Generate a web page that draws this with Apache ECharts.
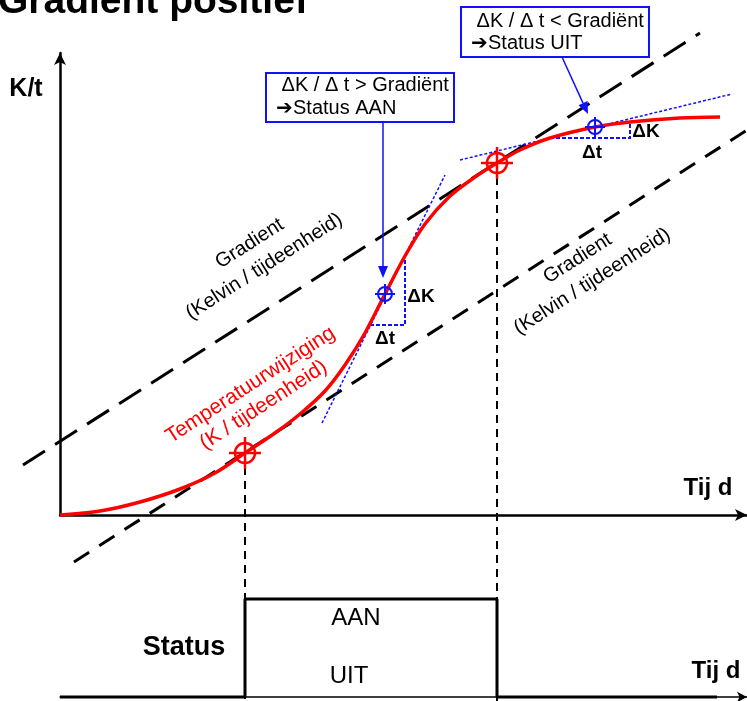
<!DOCTYPE html>
<html>
<head>
<meta charset="utf-8">
<script src="https://cdn.jsdelivr.net/npm/echarts@6/dist/echarts.min.js"></script>
<style>
  html, body { margin: 0; padding: 0; background: #fff; }
  #chart { width: 747px; height: 701px; }
</style>
</head>
<body>
<div id="chart"></div>
<script>
// time (t) and temperature (K) in arbitrary units, origin at the axes crossing
const curveT = [0, 40, 80, 120, 155, 185, 215, 240, 265, 285, 305, 325, 345, 365, 390, 415, 437, 460, 490, 535, 570, 620, 660];
const curveK = [0, 4, 13, 26, 42, 62, 82, 101, 124, 150, 182, 221, 259, 291, 319, 338, 352, 365, 377, 388, 393, 397, 398];

const gradientHigh = [[-37, 50], [640, 482]];
const gradientLow = [[14, -47], [687, 385]];

const tangentOn = [[262, 92], [385, 340]];
const tangentOff = [[400, 355], [672, 421]];

const deltaOn = [[310, 190], [345, 190], [345, 259]];
const deltaOff = [[490, 377], [570, 377], [570, 393]];

const switchPoints = [[185, 62], [437, 352]];
const measurePoints = [[325, 221], [535, 388]];

const switchT = [185, 437];
const statusT = [0, 185, 185, 437, 437, 657];
const statusV = [0, 0, 1, 1, 0, 0];

const FONT = 'Liberation Sans, Arial, sans-serif';
const chart = echarts.init(document.getElementById('chart'));

const blue = '#1010ff';
const red = '#ff0000';

function zip(xs, ys) {
  return xs.map((x, i) => [x, ys[i]]);
}

// straight polyline through data points, not clipped to the grid
function segSeries(points, color, width, dash) {
  return {
    type: 'custom',
    xAxisIndex: 0,
    yAxisIndex: 0,
    data: points,
    clip: false,
    silent: true,
    z: 3,
    renderItem(params, api) {
      if (params.dataIndex !== 0) return null;
      return {
        type: 'polyline',
        shape: { points: points.map((p) => api.coord(p)) },
        style: { stroke: color, lineWidth: width, lineDash: dash, fill: null },
      };
    },
  };
}

function crosshairSeries(data, color, r, arm, width) {
  return {
    type: 'custom',
    xAxisIndex: 0,
    yAxisIndex: 0,
    data,
    clip: false,
    silent: true,
    z: 5,
    renderItem(params, api) {
      const p = api.coord([api.value(0), api.value(1)]);
      const style = { stroke: color, lineWidth: width, fill: null };
      return {
        type: 'group',
        children: [
          { type: 'circle', shape: { cx: p[0], cy: p[1], r }, style },
          { type: 'line', shape: { x1: p[0] - arm, y1: p[1], x2: p[0] + arm, y2: p[1] }, style },
          { type: 'line', shape: { x1: p[0], y1: p[1] - arm, x2: p[0], y2: p[1] + arm }, style },
        ],
      };
    },
  };
}

function text(str, x, y, font, fill, rotationDeg = 0, extra = {}) {
  return {
    type: 'text',
    x,
    y,
    rotation: rotationDeg * Math.PI / 180,
    z: 10,
    style: Object.assign({ text: str, font, fill, align: 'center', verticalAlign: 'middle' }, extra),
  };
}

function arrow(x1, y1, x2, y2, color) {
  const ang = Math.atan2(y2 - y1, x2 - x1);
  const len = 12, half = 5;
  const bx = x2 - len * Math.cos(ang), by = y2 - len * Math.sin(ang);
  const nx = -Math.sin(ang) * half, ny = Math.cos(ang) * half;
  return [
    { type: 'line', z: 10, shape: { x1, y1, x2: bx, y2: by }, style: { stroke: color, lineWidth: 1.5 } },
    { type: 'polygon', z: 10, shape: { points: [[x2, y2], [bx + nx, by + ny], [bx - nx, by - ny]] }, style: { fill: color } },
  ];
}

function box(x, y, w, h) {
  return { type: 'rect', z: 9, shape: { x, y, width: w, height: h }, style: { fill: '#fff', stroke: blue, lineWidth: 2 } };
}

chart.setOption({
  animation: false,
  grid: [
    { left: 60, right: 0, top: 53, bottom: 186 },
    { left: 60, right: 0, top: 599, bottom: 4 },
  ],
  xAxis: [
    {
      gridIndex: 0, type: 'value', min: 0, max: 687,
      axisLine: { lineStyle: { color: '#000', width: 2.5 }, symbol: ['none', 'arrow'], symbolSize: [9, 12] },
      axisTick: { show: false }, axisLabel: { show: false }, splitLine: { show: false },
    },
    {
      gridIndex: 1, type: 'value', min: 0, max: 687,
      axisLine: { lineStyle: { color: '#000', width: 1.5 }, symbol: ['none', 'arrow'], symbolSize: [8, 10] },
      axisTick: { show: false }, axisLabel: { show: false }, splitLine: { show: false },
    },
  ],
  yAxis: [
    {
      gridIndex: 0, type: 'value', min: 0, max: 462,
      axisLine: { show: true, lineStyle: { color: '#000', width: 2.5 }, symbol: ['none', 'arrow'], symbolSize: [9, 12] },
      axisTick: { show: false }, axisLabel: { show: false }, splitLine: { show: false },
    },
    {
      gridIndex: 1, type: 'value', min: 0, max: 1,
      axisLine: { show: false }, axisTick: { show: false }, axisLabel: { show: false }, splitLine: { show: false },
    },
  ],
  series: [
    segSeries(gradientHigh, '#000', 3, [26, 12]),
    segSeries(gradientLow, '#000', 3, [18, 12]),
    ...switchT.map((t, i) => segSeries([[t, switchPoints[i][1] - 14], [t, -186]], '#000', 2, [8, 6])),
    segSeries(tangentOn, blue, 1.5, [3, 2]),
    segSeries(tangentOff, blue, 1.5, [3, 2]),
    segSeries(deltaOn, blue, 2, [4, 2]),
    segSeries(deltaOff, blue, 2, [4, 2]),
    {
      type: 'line',
      xAxisIndex: 0,
      yAxisIndex: 0,
      data: zip(curveT, curveK),
      symbol: 'none',
      smooth: 0.3,
      clip: false,
      silent: true,
      z: 4,
      lineStyle: { color: red, width: 3.5 },
    },
    crosshairSeries(switchPoints, red, 10, 16, 2.5),
    crosshairSeries(measurePoints, blue, 7, 10, 2),
    {
      type: 'line',
      xAxisIndex: 1,
      yAxisIndex: 1,
      data: zip(statusT, statusV),
      symbol: 'none',
      clip: false,
      silent: true,
      lineStyle: { color: '#000', width: 3 },
    },
  ],
  graphic: [
    text('Gradiënt positief', -2, 22, `bold 39px ${FONT}`, '#000', 0, { align: 'left', verticalAlign: 'bottom' }),
    text('K/t', 26, 89, `bold 25px ${FONT}`, '#000'),
    text('Tij d', 708, 488, `bold 24px ${FONT}`, '#000'),
    text('Tij d', 716, 671, `bold 24px ${FONT}`, '#000'),
    text('Status', 184, 648, `bold 27px ${FONT}`, '#000'),
    text('AAN', 356, 618, `24px ${FONT}`, '#000'),
    text('UIT', 349, 676, `24px ${FONT}`, '#000'),
    text('Gradient\n(Kelvin / tijdeenheid)', 257, 255, `20px ${FONT}`, '#000', 32.5, { lineHeight: 27 }),
    text('Gradient\n(Kelvin / tijdeenheid)', 585, 270, `20px ${FONT}`, '#000', 32.5, { lineHeight: 27 }),
    text('Temperatuurwijziging\n(K / tijdeenheid)', 257, 395, `21px ${FONT}`, red, 33, { lineHeight: 24 }),
    text('ΔK', 421, 297, `bold 19px ${FONT}`, '#000'),
    text('Δt', 385, 339, `bold 19px ${FONT}`, '#000'),
    text('ΔK', 646, 132, `bold 19px ${FONT}`, '#000'),
    text('Δt', 592, 153, `bold 19px ${FONT}`, '#000'),
    box(266, 73, 188, 49),
    text(' ΔK / Δ t > Gradiënt\n➔Status AAN', 276, 97, `20px ${FONT}`, '#000', 0, { align: 'left', lineHeight: 23 }),
    box(461, 7, 188, 50),
    text(' ΔK / Δ t < Gradiënt\n➔Status UIT', 471, 32, `20px ${FONT}`, '#000', 0, { align: 'left', lineHeight: 22 }),
    ...arrow(383, 122, 383, 278, blue),
    ...arrow(562, 57, 588, 114, blue),
  ],
});
</script>
</body>
</html>
